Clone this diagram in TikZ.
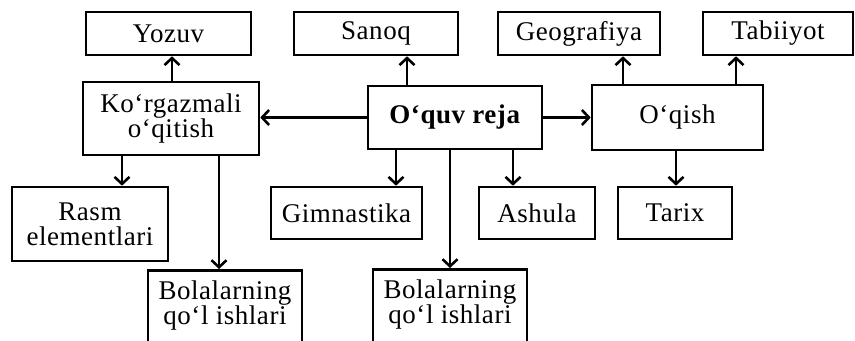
\documentclass[tikz,border=0pt]{standalone}
\usepackage{fontspec}
\setmainfont{Liberation Serif}[LetterSpace=2]
\usetikzlibrary{arrows.meta}

\begin{document}
\begin{tikzpicture}[x=0.5pt,y=-0.5pt,
    box/.style={draw,line width=1.3pt,align=center,inner sep=2pt,
      font=\fontsize{13.5}{12.5}\selectfont},
    arr/.style={line width=1.3pt,-{Straight Barb[length=3.5pt,width=7.5pt,line width=1.3pt]}}]
    \useasboundingbox (0,0) rectangle (855,341);
    \clip (0,0) rectangle (855,341);
    \node[box,minimum width=82.5pt,minimum height=21.5pt] (yozuv) at (168.5,33.5) {Yozuv};
    \node[box,minimum width=82pt,minimum height=21.5pt] (sanoq) at (376,33.5) {Sanoq};
    \node[box,minimum width=81pt,minimum height=21.5pt] (geo) at (579,33.5) {Geografiya};
    \node[box,minimum width=75pt,minimum height=21.5pt] (tabi) at (778,33.5) {Tabiiyot};
    \node[box,minimum width=88pt,minimum height=36.5pt] (korg) at (171,118.5) {Ko‘rgazmali\\o‘qitish};
    \node[box,minimum width=87pt,minimum height=31.5pt] (reja) at (455,117.5) {\textbf{O‘quv reja}};
    \node[box,minimum width=85.5pt,minimum height=32.5pt] (oqish) at (677.5,117.5) {O‘qish};
    \node[box,minimum width=78pt,minimum height=37pt] (rasm) at (90,224) {Rasm\\elementlari};
    \node[box,minimum width=75.5pt,minimum height=26pt] (gim) at (346.5,213) {Gimnastika};
    \node[box,minimum width=58pt,minimum height=26pt] (ashula) at (537,213) {Ashula};
    \node[box,minimum width=57pt,minimum height=26pt] (tarix) at (675,213) {Tarix};
    \node[box,anchor=north,minimum width=77pt,inner ysep=5pt,text depth=30pt] (bola1) at (225,269) {Bolalarning\\qo‘l ishlari};
    \node[box,anchor=north,minimum width=77pt,inner ysep=5pt,text depth=30pt] (bola2) at (450,268) {Bolalarning\\qo‘l ishlari};
    \coordinate (cyoz) at (172,0);
    \coordinate (csan) at (407,0);
    \coordinate (cgeo) at (623,0);
    \coordinate (ctab) at (736,0);
    \coordinate (cras) at (122,0);
    \coordinate (cbo1) at (219,0);
    \coordinate (cgim) at (396,0);
    \coordinate (cbo2) at (450,0);
    \coordinate (cash) at (513,0);
    \coordinate (ctar) at (676,0);
    \draw[arr] (korg.north -| cyoz) -- (yozuv.south -| cyoz);
    \draw[arr] (reja.north -| csan) -- (sanoq.south -| csan);
    \draw[arr] (oqish.north -| cgeo) -- (geo.south -| cgeo);
    \draw[arr] (oqish.north -| ctab) -- (tabi.south -| ctab);
    \draw[arr] (korg.south -| cras) -- (rasm.north -| cras);
    \draw[arr] (korg.south -| cbo1) -- (bola1.north -| cbo1);
    \draw[arr] (reja.south -| cgim) -- (gim.north -| cgim);
    \draw[arr] (reja.south -| cbo2) -- (bola2.north -| cbo2);
    \draw[arr] (reja.south -| cash) -- (ashula.north -| cash);
    \draw[arr] (oqish.south -| ctar) -- (tarix.north -| ctar);
    \draw[arr] (reja.west) -- (reja.west -| korg.east);
    \draw[arr] (reja.east) -- (reja.east -| oqish.west);
\end{tikzpicture}
\end{document}
